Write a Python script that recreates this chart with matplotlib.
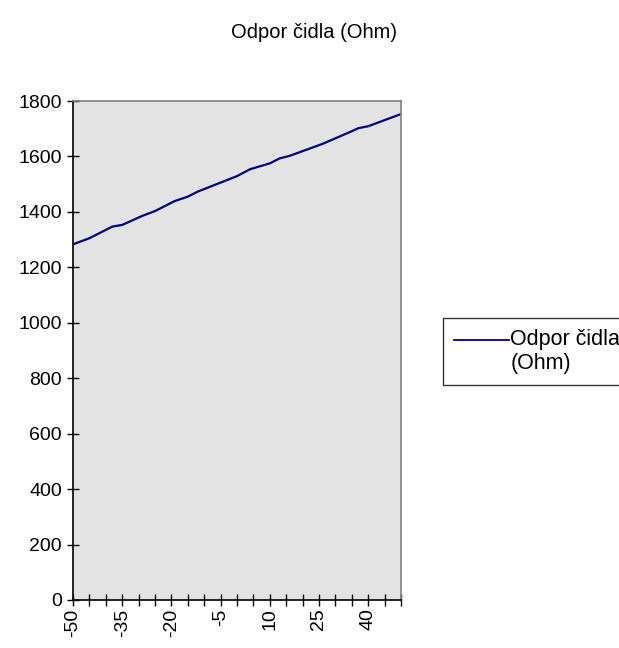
import matplotlib
matplotlib.use('Agg')
import matplotlib.pyplot as plt
from matplotlib.legend_handler import HandlerLine2D

# sensor readings (temperature in C, resistance in Ohm)
temps = [-50, -45, -38, -35, -29, -25, -19, -15, -12, 0, 4, 10, 13, 16, 26, 35, 37, 40, 50]
ohms = [1283, 1305, 1347, 1353, 1385, 1403, 1439, 1455, 1473, 1529, 1554, 1575, 1593, 1602, 1645, 1691, 1702, 1709, 1753]

x_ticks = list(range(-50, 51, 5))
y_ticks = list(range(0, 1801, 200))


class TopLineHandler(HandlerLine2D):
    # put the legend line next to the first text line, like Excel does
    def create_artists(self, legend, orig_handle, xdescent, ydescent, width, height, fontsize, trans):
        arts = super().create_artists(legend, orig_handle, xdescent, ydescent, width, height, fontsize, trans)
        for a in arts:
            y = a.get_ydata()
            a.set_ydata([v + 0.55 * fontsize for v in y])
        return arts


plt.rcParams['font.family'] = ['Liberation Sans', 'DejaVu Sans']

fig = plt.figure(figsize=(6.19, 6.48), dpi=100)
ax = fig.add_axes([73 / 619, 48 / 648, 328 / 619, 499 / 648])
ax.set_facecolor("#e3e3e3")

line, = ax.plot(temps, ohms, color="#000080", lw=1.6, label="Odpor čidla\n(Ohm)")

ax.set_xlim(-50, 50)
ax.set_ylim(0, 1800)
ax.set_xticks(x_ticks)
# only every third tick gets a label
ax.set_xticklabels([str(v) if (i % 3 == 0) else "" for i, v in enumerate(x_ticks)], rotation=90)
ax.set_yticks(y_ticks)
ax.tick_params(direction="inout", length=8, width=1, labelsize=14, colors="black")
ax.tick_params(axis="x", pad=2)
ax.tick_params(axis="y", pad=4)

ax.spines["left"].set_color("black")
ax.spines["bottom"].set_color("black")
ax.spines["top"].set_color("#808080")
ax.spines["right"].set_color("#808080")
for s in ax.spines.values():
    s.set_linewidth(1.2)

fig.text(314 / 619, 1 - 32 / 648, "Odpor čidla (Ohm)", ha="center", va="center", fontsize=14.5)

leg = fig.legend(loc="upper left", bbox_to_anchor=(443 / 619, 1 - 318 / 648),
                 fontsize=15.5, frameon=True, fancybox=False, handlelength=2.55,
                 handletextpad=0.08, borderpad=0.5, borderaxespad=0,
                 handler_map={line: TopLineHandler()})
leg.get_frame().set_edgecolor("black")
leg.get_frame().set_linewidth(1)
for l in leg.get_lines():
    l.set_linewidth(1.3)

plt.savefig("out.png", dpi=100)
